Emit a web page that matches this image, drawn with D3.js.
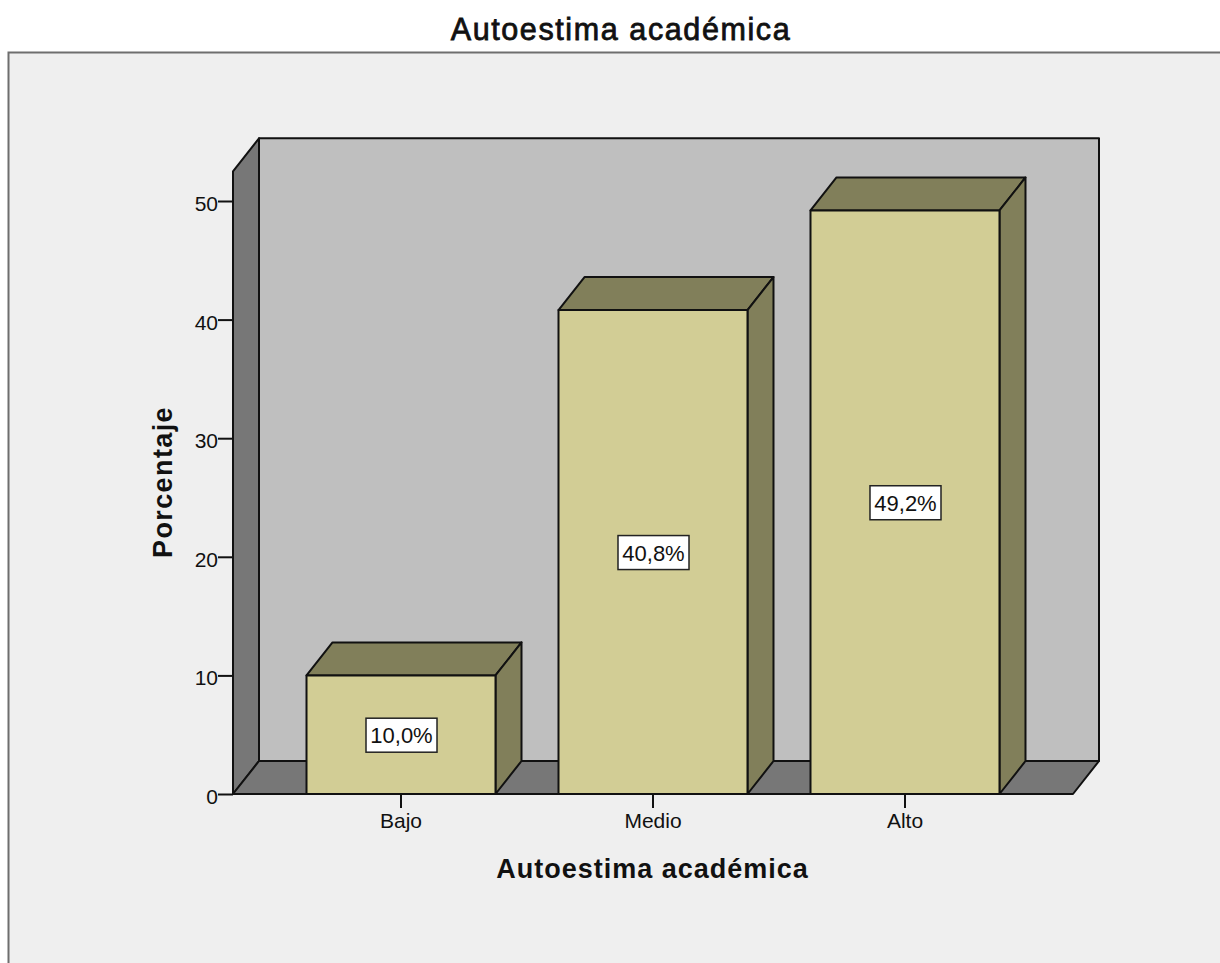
<!DOCTYPE html>
<html><head><meta charset="utf-8">
<script src="https://cdn.jsdelivr.net/npm/d3@7"></script>
<style>html,body{margin:0;padding:0;background:#fff}svg{display:block}text{font-family:"Liberation Sans",Arial,sans-serif;fill:#111}</style>
</head><body><div id="c"></div>
<script>
const categories=["Bajo","Medio","Alto"];
const values=[10.0,40.8,49.2];
const valueLabels=["10,0%","40,8%","49,2%"];
const yTicks=[0,10,20,30,40,50];
const title="Autoestima académica";
const xTitle="Autoestima académica";
const yTitle="Porcentaje";

const W=1220,H=963,dx=26,dy=-33;
const svg=d3.select("#c").append("svg").attr("width",W).attr("height",H);
svg.append("rect").attr("x",8.5).attr("y",52.5).attr("width",W+20).attr("height",H+20)
  .attr("fill","#efefef").attr("stroke","#6e6e6e").attr("stroke-width",2);
svg.append("text").attr("x",621).attr("y",39.5).attr("text-anchor","middle")
  .attr("font-size",30.5).attr("letter-spacing",1.6).attr("stroke","#111").attr("stroke-width",0.8).text(title);

const y=d3.scaleLinear().domain([0,50]).range([794,201]);
const x=d3.scaleBand().domain(categories).range([233,1073]).paddingInner(0.25).paddingOuter(0.2917);
const x0=233,x1=1073,y0=y(0),yTop=y(52.5);
const line=d3.line();
const poly=(pts,fill)=>svg.append("path").attr("d",line(pts)+"Z").attr("fill",fill)
  .attr("stroke","#111").attr("stroke-width",2).attr("stroke-linejoin","round");

poly([[x0+dx,yTop+dy],[x1+dx,yTop+dy],[x1+dx,y0+dy],[x0+dx,y0+dy]],"#bfbfbf");
poly([[x0,yTop],[x0+dx,yTop+dy],[x0+dx,y0+dy],[x0,y0]],"#777777");
poly([[x0,y0],[x0+dx,y0+dy],[x1+dx,y0+dy],[x1,y0]],"#777777");

const gy=svg.append("g").attr("transform",`translate(${x0},0)`)
  .call(d3.axisLeft(y).tickValues(yTicks).tickSize(15).tickPadding(0).tickFormat(d3.format("d")));
gy.select(".domain").remove();
gy.selectAll("line").attr("stroke","#111").attr("stroke-width",2);
gy.selectAll("text").attr("font-size",21).attr("font-family","Liberation Sans").attr("fill","#222").attr("dy","9.5px");

const gx=svg.append("g").attr("transform",`translate(0,${y0})`)
  .call(d3.axisBottom(x).tickSize(14).tickPadding(5));
gx.select(".domain").remove();
gx.selectAll("line").attr("stroke","#111").attr("stroke-width",2);
gx.selectAll("text").attr("font-size",21).attr("font-family","Liberation Sans").attr("fill","#222");

categories.forEach((c,i)=>{
  const l=x(c),r=l+x.bandwidth(),t=y(values[i]);
  poly([[l,t],[l+dx,t+dy],[r+dx,t+dy],[r,t]],"#817f5a");
  poly([[r,t],[r+dx,t+dy],[r+dx,y0+dy],[r,y0]],"#817f5a");
  poly([[l,t],[r,t],[r,y0],[l,y0]],"#d2cd95");
  const cx=(l+r)/2+0.5,cy=y(values[i]/2)+0.5;
  svg.append("rect").attr("x",cx-35.5).attr("y",cy-17).attr("width",71).attr("height",34)
    .attr("fill","#fff").attr("stroke","#222").attr("stroke-width",1.5);
  svg.append("text").attr("x",cx).attr("y",cy+8).attr("text-anchor","middle")
    .attr("font-size",22).text(valueLabels[i]);
});
svg.append("line").attr("x1",x0).attr("x2",x1).attr("y1",y0).attr("y2",y0).attr("stroke","#111").attr("stroke-width",2);

svg.append("text").attr("x",652.5).attr("y",878).attr("text-anchor","middle")
  .attr("font-size",27).attr("font-weight","bold").attr("letter-spacing",1).text(xTitle);
svg.append("text").attr("transform","translate(172,482) rotate(-90)").attr("text-anchor","middle")
  .attr("font-size",27).attr("font-weight","bold").attr("letter-spacing",1.4).text(yTitle);
</script></body></html>
